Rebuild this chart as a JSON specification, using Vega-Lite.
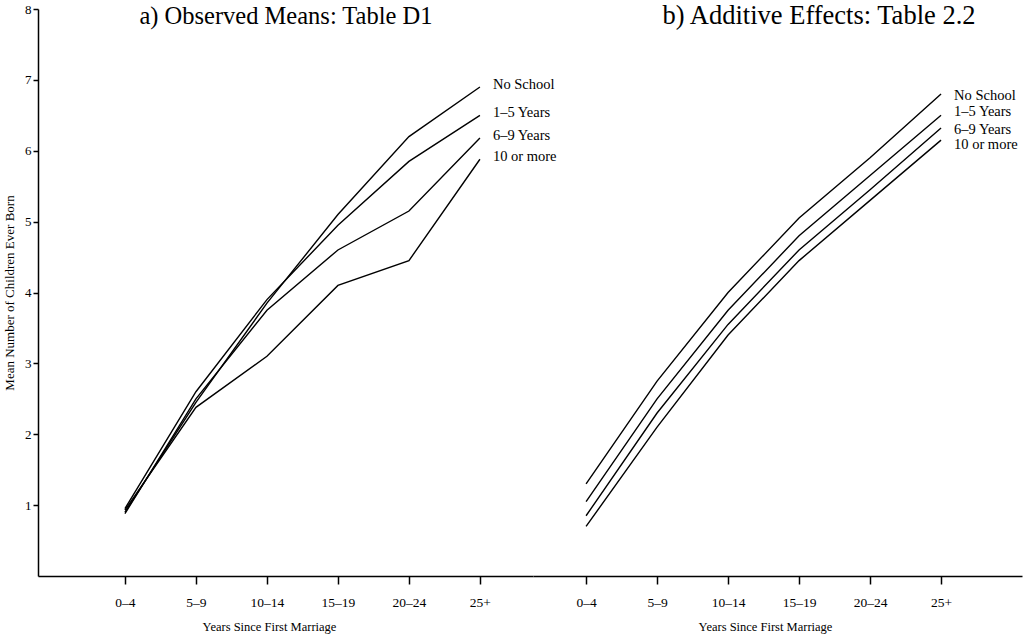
{
  "$schema": "https://vega.github.io/schema/vega-lite/v6.json",
  "background": "white",
  "padding": {"left": 3, "top": 3, "right": 4, "bottom": 2},
  "spacing": 0,
  "bounds": "flush",
  "config": {
    "view": {"stroke": null},
    "font": "Liberation Serif",
    "axis": {
      "domainColor": "black",
      "domainWidth": 1.5,
      "tickColor": "black",
      "tickWidth": 1.5,
      "labelColor": "black",
      "titleColor": "black",
      "labelFont": "Liberation Serif",
      "titleFont": "Liberation Serif",
      "grid": false
    }
  },
  "datasets": {
    "observed": [
      {"group": "No School", "period": "0–4", "mean": 0.9},
      {"group": "No School", "period": "5–9", "mean": 2.45},
      {"group": "No School", "period": "10–14", "mean": 3.85},
      {"group": "No School", "period": "15–19", "mean": 5.1},
      {"group": "No School", "period": "20–24", "mean": 6.2},
      {"group": "No School", "period": "25+", "mean": 6.9},
      {"group": "1–5 Years", "period": "0–4", "mean": 0.95},
      {"group": "1–5 Years", "period": "5–9", "mean": 2.6},
      {"group": "1–5 Years", "period": "10–14", "mean": 3.9},
      {"group": "1–5 Years", "period": "15–19", "mean": 4.95},
      {"group": "1–5 Years", "period": "20–24", "mean": 5.85},
      {"group": "1–5 Years", "period": "25+", "mean": 6.5},
      {"group": "6–9 Years", "period": "0–4", "mean": 0.88},
      {"group": "6–9 Years", "period": "5–9", "mean": 2.5},
      {"group": "6–9 Years", "period": "10–14", "mean": 3.75},
      {"group": "6–9 Years", "period": "15–19", "mean": 4.6},
      {"group": "6–9 Years", "period": "20–24", "mean": 5.15},
      {"group": "6–9 Years", "period": "25+", "mean": 6.18},
      {"group": "10 or more", "period": "0–4", "mean": 0.93},
      {"group": "10 or more", "period": "5–9", "mean": 2.38},
      {"group": "10 or more", "period": "10–14", "mean": 3.1},
      {"group": "10 or more", "period": "15–19", "mean": 4.1},
      {"group": "10 or more", "period": "20–24", "mean": 4.45},
      {"group": "10 or more", "period": "25+", "mean": 5.88}
    ],
    "additive": [
      {"group": "No School", "period": "0–4", "mean": 1.3},
      {"group": "No School", "period": "5–9", "mean": 2.75},
      {"group": "No School", "period": "10–14", "mean": 4.0},
      {"group": "No School", "period": "15–19", "mean": 5.05},
      {"group": "No School", "period": "20–24", "mean": 5.9},
      {"group": "No School", "period": "25+", "mean": 6.8},
      {"group": "1–5 Years", "period": "0–4", "mean": 1.05},
      {"group": "1–5 Years", "period": "5–9", "mean": 2.5},
      {"group": "1–5 Years", "period": "10–14", "mean": 3.75},
      {"group": "1–5 Years", "period": "15–19", "mean": 4.8},
      {"group": "1–5 Years", "period": "20–24", "mean": 5.65},
      {"group": "1–5 Years", "period": "25+", "mean": 6.5},
      {"group": "6–9 Years", "period": "0–4", "mean": 0.85},
      {"group": "6–9 Years", "period": "5–9", "mean": 2.3},
      {"group": "6–9 Years", "period": "10–14", "mean": 3.55},
      {"group": "6–9 Years", "period": "15–19", "mean": 4.6},
      {"group": "6–9 Years", "period": "20–24", "mean": 5.45},
      {"group": "6–9 Years", "period": "25+", "mean": 6.32},
      {"group": "10 or more", "period": "0–4", "mean": 0.7},
      {"group": "10 or more", "period": "5–9", "mean": 2.1},
      {"group": "10 or more", "period": "10–14", "mean": 3.4},
      {"group": "10 or more", "period": "15–19", "mean": 4.45},
      {"group": "10 or more", "period": "20–24", "mean": 5.3},
      {"group": "10 or more", "period": "25+", "mean": 6.15}
    ]
  },
  "hconcat": [
    {
      "width": 495,
      "height": 567,
      "data": {"name": "observed"},
      "encoding": {
        "x": {
          "field": "period", "type": "ordinal",
          "scale": {"type": "point", "domain": ["0–4", "5–9", "10–14", "15–19", "20–24", "25+"], "padding": 0.986, "align": 0.621},
          "axis": {"title": "Years Since First Marriage", "labelAngle": 0, "tickSize": 8, "labelPadding": 11, "labelFontSize": 13.5, "titleFontSize": 12.5, "titleFontWeight": "normal", "titlePadding": 12, "titleX": 231}
        },
        "y": {
          "field": "mean", "type": "quantitative",
          "scale": {"domain": [0, 8], "nice": false, "zero": true},
          "axis": {"title": "Mean Number of Children Ever Born", "values": [1, 2, 3, 4, 5, 6, 7, 8], "tickSize": 5, "labelPadding": 2, "labelFontSize": 13, "titleFontSize": 13, "titleFontWeight": "normal", "titlePadding": 8}
        }
      },
      "layer": [
        {"mark": {"type": "line", "color": "black", "strokeWidth": 1.4}, "encoding": {"detail": {"field": "group"}}},
        {
          "transform": [{"filter": "datum.period === '25+'"}],
          "mark": {"type": "text", "align": "left", "baseline": "middle", "dx": 13, "dy": -2, "fontSize": 14.5, "color": "black", "font": "Liberation Serif"},
          "encoding": {"text": {"field": "group"}}
        },
        {
          "transform": [{"filter": "datum.period === '10–14' && datum.group === 'No School'"}],
          "mark": {"type": "text", "align": "center", "baseline": "alphabetic", "dx": 19, "dy": 15, "fontSize": 24.5, "color": "black", "font": "Liberation Serif"},
          "encoding": {"y": {"datum": 8, "type": "quantitative"}, "text": {"value": "a) Observed Means: Table D1"}}
        }
      ]
    },
    {
      "width": 489,
      "height": 567,
      "data": {"name": "additive"},
      "encoding": {
        "x": {
          "field": "period", "type": "ordinal",
          "scale": {"type": "point", "domain": ["0–4", "5–9", "10–14", "15–19", "20–24", "25+"], "padding": 0.944, "align": 0.396},
          "axis": {"title": "Years Since First Marriage", "labelAngle": 0, "tickSize": 8, "labelPadding": 11, "labelFontSize": 13.5, "titleFontSize": 12.5, "titleFontWeight": "normal", "titlePadding": 12, "titleX": 232}
        },
        "y": {
          "field": "mean", "type": "quantitative",
          "scale": {"domain": [0, 8], "nice": false, "zero": true},
          "axis": null
        }
      },
      "layer": [
        {"mark": {"type": "line", "color": "black", "strokeWidth": 1.4}, "encoding": {"detail": {"field": "group"}}},
        {
          "transform": [{"filter": "datum.period === '25+' && datum.group === 'No School'"}],
          "mark": {"type": "text", "align": "left", "baseline": "middle", "dx": 13, "dy": 2, "fontSize": 14.5, "color": "black", "font": "Liberation Serif"},
          "encoding": {"text": {"field": "group"}}
        },
        {
          "transform": [{"filter": "datum.period === '25+' && datum.group === '1–5 Years'"}],
          "mark": {"type": "text", "align": "left", "baseline": "middle", "dx": 13, "dy": -3, "fontSize": 14.5, "color": "black", "font": "Liberation Serif"},
          "encoding": {"text": {"field": "group"}}
        },
        {
          "transform": [{"filter": "datum.period === '25+' && datum.group === '6–9 Years'"}],
          "mark": {"type": "text", "align": "left", "baseline": "middle", "dx": 13, "dy": 2, "fontSize": 14.5, "color": "black", "font": "Liberation Serif"},
          "encoding": {"text": {"field": "group"}}
        },
        {
          "transform": [{"filter": "datum.period === '25+' && datum.group === '10 or more'"}],
          "mark": {"type": "text", "align": "left", "baseline": "middle", "dx": 13, "dy": 5, "fontSize": 14.5, "color": "black", "font": "Liberation Serif"},
          "encoding": {"text": {"field": "group"}}
        },
        {
          "transform": [{"filter": "datum.period === '15–19' && datum.group === 'No School'"}],
          "mark": {"type": "text", "align": "center", "baseline": "alphabetic", "dx": 20, "dy": 15, "fontSize": 26.5, "color": "black", "font": "Liberation Serif"},
          "encoding": {"y": {"datum": 8, "type": "quantitative"}, "text": {"value": "b) Additive Effects: Table 2.2"}}
        }
      ]
    }
  ]
}
